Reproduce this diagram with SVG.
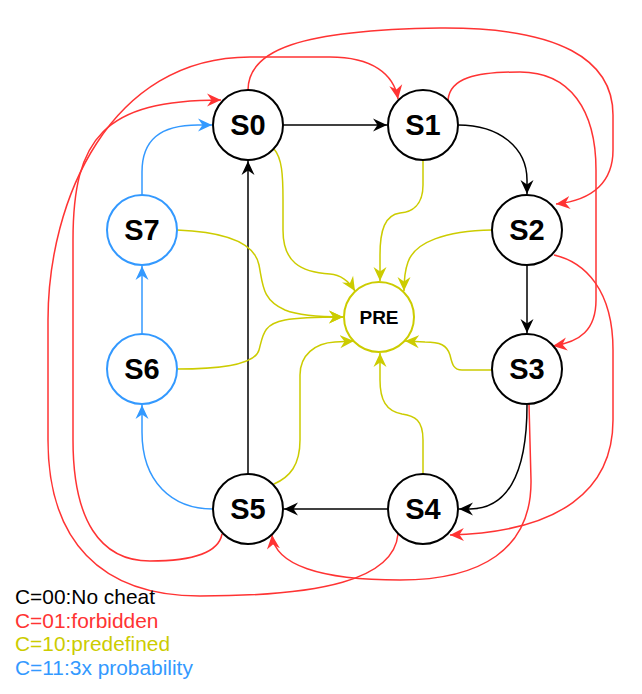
<svg xmlns="http://www.w3.org/2000/svg" width="642" height="694" viewBox="0 0 642 694">
<style>
.e{fill:none;stroke-width:1.5}
.k{stroke:#000}
.r{stroke:#FF3333}
.y{stroke:#CCCC00}
.b{stroke:#3399FF}
.n{fill:#fff;stroke-width:2}
.t{font-family:"Liberation Sans",Arial,sans-serif;font-weight:bold;text-anchor:middle;fill:#000}
.lg{font-family:"Liberation Sans",Arial,sans-serif;font-size:20.9px}
</style>
<defs>
<marker id="ak" markerUnits="userSpaceOnUse" markerWidth="15" markerHeight="15" refX="14" refY="7" orient="auto"><path d="M0,0.5 L14,7 L0,13.5 L4.5,7 Z" fill="#000"/></marker>
<marker id="ar" markerUnits="userSpaceOnUse" markerWidth="15" markerHeight="15" refX="14" refY="7" orient="auto"><path d="M0,0.5 L14,7 L0,13.5 L4.5,7 Z" fill="#FF3333"/></marker>
<marker id="ay" markerUnits="userSpaceOnUse" markerWidth="15" markerHeight="15" refX="14" refY="7" orient="auto"><path d="M0,0.5 L14,7 L0,13.5 L4.5,7 Z" fill="#CCCC00"/></marker>
<marker id="ab" markerUnits="userSpaceOnUse" markerWidth="15" markerHeight="15" refX="14" refY="7" orient="auto"><path d="M0,0.5 L14,7 L0,13.5 L4.5,7 Z" fill="#3399FF"/></marker>
</defs>
<g id="connectors">
<!-- black -->
<path class="e k" marker-end="url(#ak)" d="M283,125 L387,125"/>
<path class="e k" marker-end="url(#ak)" d="M458,125 C500,125 527,148 527,180 L527,194"/>
<path class="e k" marker-end="url(#ak)" d="M527,265 L527,333"/>
<path class="e k" marker-end="url(#ak)" d="M527,405 C527,478 505,509 470,509 L459,509"/>
<path class="e k" marker-end="url(#ak)" d="M388,509 L284,509"/>
<path class="e k" marker-end="url(#ak)" d="M248,474 L248,161"/>
<!-- blue -->
<path class="e b" marker-end="url(#ab)" d="M142,195 L142,172 C142,140 160,125 198,125 L212,125"/>
<path class="e b" marker-end="url(#ab)" d="M142,334 L142,266"/>
<path class="e b" marker-end="url(#ab)" d="M213,509 C172,509 142,482 142,432 L142,405"/>
<!-- yellow -->
<path class="e y" marker-end="url(#ay)" d="M274,149 C282,158 283,175 283,200 L283,230 C283,262 300,272 330,274 C343,275 350,283 355,291"/>
<path class="e y" marker-end="url(#ay)" d="M177,230 C230,232 255,245 259,265 C263,285 262,300 285,310 C300,316 320,317 343,317"/>
<path class="e y" marker-end="url(#ay)" d="M177,369 C220,369 255,365 259,350 C263,335 263,324 285,320 C300,317 320,317 343,317"/>
<path class="e y" marker-end="url(#ay)" d="M274,484 C290,477 300,465 300,440 L300,375 C300,355 315,343 335,342 L354,341"/>
<path class="e y" marker-end="url(#ay)" d="M423,474 L423,440 C423,420 415,416 402,414 C386,411 380,400 380,380 L380,353"/>
<path class="e y" marker-end="url(#ay)" d="M492,370 L462,370 C453,370 452,363 450,355 C447,345 440,342 425,342 L405,341"/>
<path class="e y" marker-end="url(#ay)" d="M492,230 C445,231 415,242 408,262 C404,273 404,282 404,291"/>
<path class="e y" marker-end="url(#ay)" d="M423,160 L423,185 C423,205 412,212 400,213 C385,215 380,230 380,255 L380,281"/>
<!-- red -->
<path class="e r" marker-end="url(#ar)" d="M248,90 C248,50 300,30 440,28 C560,27 613,60 613,115 L613,150 C613,180 595,200 556,204"/>
<path class="e r" marker-end="url(#ar)" d="M448,100 C450,78 475,72 520,72 C570,72 596,110 596,170 L596,300 C596,330 580,342 553,346"/>
<path class="e r" marker-end="url(#ar)" d="M554,255 C585,262 613,290 613,350 L613,420 C613,490 560,532 450,535"/>
<path class="e r" marker-end="url(#ar)" d="M529,404 L531,480 C532,550 480,580 400,580 C320,580 275,565 272,535"/>
<path class="e r" marker-end="url(#ar)" d="M398,534 C394,580 320,596 200,596 C100,596 48,540 48,440 L48,320 C48,200 110,57 250,57 L330,57 C372,57 394,74 398,99"/>
<path class="e r" marker-end="url(#ar)" d="M222,534 C218,556 185,561 150,561 C100,561 73,520 73,440 L73,240 C73,138 104,100 221,100"/>
</g>
<g id="S0"><circle class="n" cx="248" cy="125" r="35" stroke="#000"/><text class="t" x="248" y="135" font-size="29">S0</text></g>
<g id="S1"><circle class="n" cx="423" cy="125" r="35" stroke="#000"/><text class="t" x="423" y="135" font-size="29">S1</text></g>
<g id="S2"><circle class="n" cx="527" cy="230" r="35" stroke="#000"/><text class="t" x="527" y="240" font-size="29">S2</text></g>
<g id="S3"><circle class="n" cx="527" cy="369" r="35" stroke="#000"/><text class="t" x="527" y="379" font-size="29">S3</text></g>
<g id="S4"><circle class="n" cx="423" cy="509" r="35" stroke="#000"/><text class="t" x="423" y="519" font-size="29">S4</text></g>
<g id="S5"><circle class="n" cx="248" cy="509" r="35" stroke="#000"/><text class="t" x="248" y="519" font-size="29">S5</text></g>
<g id="S6"><circle class="n" cx="142" cy="369" r="35" stroke="#3399FF"/><text class="t" x="142" y="379" font-size="29">S6</text></g>
<g id="S7"><circle class="n" cx="142" cy="230" r="35" stroke="#3399FF"/><text class="t" x="142" y="240" font-size="29">S7</text></g>
<g id="PRE"><circle class="n" cx="379" cy="317" r="35" stroke="#CCCC00"/><text class="t" x="379" y="324" font-size="19">PRE</text></g>
<g id="legend">
<text class="lg" x="15" y="604" fill="#000">C=00:No cheat</text>
<text class="lg" x="15" y="627.5" fill="#FF3333">C=01:forbidden</text>
<text class="lg" x="15" y="651" fill="#CCCC00">C=10:predefined</text>
<text class="lg" x="15" y="675" fill="#3399FF">C=11:3x probability</text>
</g>
</svg>
